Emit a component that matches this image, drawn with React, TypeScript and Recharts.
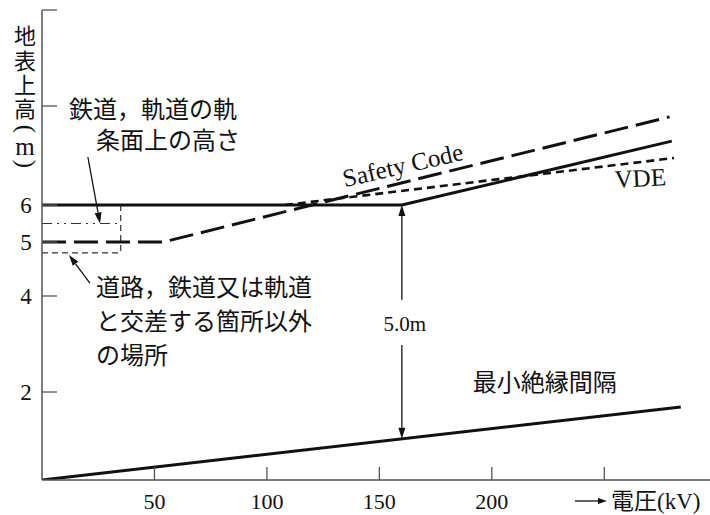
import React from 'react';
import { LineChart, Line, XAxis, YAxis, ReferenceLine, ReferenceDot } from 'recharts';

// voltage (kV) and height above ground (m) of each curve
const LINE_KV = [0, 160, 280];
const LINE_M = [6, 6, 7.29];
const SAFETY_KV = [0, 54, 120, 279];
const SAFETY_M = [5, 5, 6, 7.78];
const VDE_KV = [108, 281];
const VDE_M = [6, 6.95];
const INSUL_KV = [0, 284];
const INSUL_M = [0, 1.66];
const RAIL_KV = [0, 35];
const RAIL_M = [5.5, 5.5];
const ROAD_KV = [0, 35];
const ROAD_M = [4.8, 4.8];
const EDGE_KV = [35, 35];
const EDGE_M = [6, 4.8];

const X_TICKS = [50, 100, 150, 200, 250];
const X_LABELS = ['50', '100', '150', '200', ''];
const Y_TICKS = [2, 4, 5, 6, 8, 10];
const Y_LABELS = ['2', '4', '5', '6', '', ''];
const Y_TITLE = ['地', '表', '上', '高', '(', 'm', ')'];
const Y_TITLE_POS = [36, 61, 85, 109, 129, 146, 164];

// the height axis of the original is not drawn to scale: metres -> axis units
const SCALE_M = [0, 2, 4, 5, 6, 8, 10];
const SCALE_AXIS = [0, 1.872, 3.915, 5.064, 5.851, 7.957, 10];

const toAxis = (m: number) => {
  for (let i = 0; i < SCALE_M.length - 1; i++) {
    if (m <= SCALE_M[i + 1]) {
      const t = (m - SCALE_M[i]) / (SCALE_M[i + 1] - SCALE_M[i]);
      return SCALE_AXIS[i] + t * (SCALE_AXIS[i + 1] - SCALE_AXIS[i]);
    }
  }
  return SCALE_AXIS[SCALE_AXIS.length - 1];
};

const series = (kv: number[], m: number[]) => kv.map((x, i) => ({ kv: x, h: toAxis(m[i]) }));

// annotation texts: [kV, m] anchor
const NOTES = [
  { kv: 12.0, m: 7.92, text: '鉄道，軌道の軌', anchor: 'start' },
  { kv: 24.0, m: 7.31, text: '条面上の高さ', anchor: 'start' },
  { kv: 24.0, m: 4.15, text: '道路，鉄道又は軌道', anchor: 'start' },
  { kv: 24.0, m: 3.46, text: 'と交差する箇所以外', anchor: 'start' },
  { kv: 24.0, m: 2.75, text: 'の場所', anchor: 'start' },
  { kv: 223.5, m: 2.19, text: '最小絶縁間隔', anchor: 'middle' },
];

// arrows: from -> to (head at "to")
const ARROWS = [
  { from: [20.4, 6.97], to: [25.8, 5.5] },
  { from: [21.3, 4.24], to: [12.0, 4.76] },
  { from: [160, 3.92], to: [160, 6] },
  { from: [160, 2.98], to: [160, 0.935] },
];

const INK = '#111';
const JP = '"Noto Sans CJK JP", sans-serif';
const SERIF = '"Liberation Serif", serif';

const Arrow = (p: any) => {
  const { x1, y1, x2, y2 } = p;
  const a = Math.atan2(y2 - y1, x2 - x1);
  const len = 11;
  const w = 3.5;
  const bx = x2 - len * Math.cos(a);
  const by = y2 - len * Math.sin(a);
  const pts = `${x2},${y2} ${bx - w * Math.sin(a)},${by + w * Math.cos(a)} ${bx + w * Math.sin(a)},${by - w * Math.cos(a)}`;
  return (
    <g>
      <line x1={x1} y1={y1} x2={bx} y2={by} stroke={INK} strokeWidth={1.3} />
      <polygon points={pts} fill={INK} />
    </g>
  );
};

const YTick = (p: any) => {
  const { x, y, payload } = p;
  const i = Y_TICKS.findIndex((t) => Math.abs(toAxis(t) - payload.value) < 1e-6);
  return (
    <g>
      <line x1={x} y1={y} x2={x + 15} y2={y} stroke="#555" strokeWidth={1.3} />
      <text x={x - 16} y={y} dy="0.35em" textAnchor="middle" fontFamily={SERIF} fontSize={23} fill={INK}>
        {Y_LABELS[i] ?? ''}
      </text>
    </g>
  );
};

const XTick = (p: any) => {
  const { x, y, payload } = p;
  const i = X_TICKS.indexOf(payload.value);
  return (
    <g>
      <line x1={x} y1={y} x2={x} y2={y - 13} stroke="#555" strokeWidth={1.3} />
      <text x={x} y={y + 21} dy="0.35em" textAnchor="middle" fontFamily={SERIF} fontSize={22} fill={INK}>
        {X_LABELS[i] ?? ''}
      </text>
    </g>
  );
};

const YTitle = (p: any) => {
  const vb = p.viewBox;
  const cx = vb.x + 25;
  return (
    <g fill={INK}>
      {Y_TITLE.map((c, i) => {
        const cy = vb.y - 10 + Y_TITLE_POS[i];
        const paren = c === '(' || c === ')';
        const latin = paren || c === 'm';
        return (
          <text
            key={i}
            x={cx}
            y={cy}
            dy={paren ? '0.3em' : '0.35em'}
            textAnchor="middle"
            fontFamily={latin ? SERIF : JP}
            fontSize={latin ? 25 : 22}
            transform={paren ? `rotate(90 ${cx} ${cy})` : undefined}
          >
            {c}
          </text>
        );
      })}
    </g>
  );
};

const XTitle = (p: any) => {
  const vb = p.viewBox;
  const right = vb.x + vb.width;
  const ty = vb.y + 21;
  return (
    <g>
      <line x1={right - 135} y1={ty} x2={right - 110} y2={ty} stroke={INK} strokeWidth={1.3} />
      <polygon points={`${right - 103},${ty} ${right - 112},${ty - 3} ${right - 112},${ty + 3}`} fill={INK} />
      <text x={right - 99} y={ty} dy="0.35em" fontFamily={JP} fontSize={23} fill={INK}>
        電圧
        <tspan fontFamily={SERIF}>(kV)</tspan>
      </text>
    </g>
  );
};

const textShape = (text: string, anchor: string, opts: any = {}) => (p: any) => (
  <text
    x={p.cx}
    y={p.cy}
    dy="0.35em"
    textAnchor={anchor}
    fontFamily={opts.family ?? JP}
    fontSize={opts.size ?? 24}
    fill={INK}
    transform={opts.rotate ? `rotate(${opts.rotate} ${p.cx} ${p.cy})` : undefined}
  >
    {text}
  </text>
);

export default function App() {
  return (
    <div style={{ position: 'absolute', left: 0, top: 0, width: 710, height: 515, background: '#fff' }}>
      <LineChart width={710} height={515} margin={{ top: 10, right: 0, bottom: 0, left: 0 }}>
        <XAxis
          dataKey="kv"
          type="number"
          domain={[0, 297]}
          ticks={X_TICKS}
          interval={0}
          height={35}
          tickSize={0}
          tickMargin={0}
          tickLine={false}
          axisLine={{ stroke: '#555', strokeWidth: 1.5 }}
          tick={<XTick />}
          allowDataOverflow
          label={{ content: XTitle }}
        />
        <YAxis
          type="number"
          domain={[0, 10]}
          ticks={Y_TICKS.map(toAxis)}
          interval={0}
          width={42}
          tickSize={0}
          tickMargin={0}
          tickLine={false}
          axisLine={{ stroke: '#555', strokeWidth: 1.5 }}
          tick={<YTick />}
          allowDataOverflow
          label={{ content: YTitle }}
        />

        <Line data={series(RAIL_KV, RAIL_M)} dataKey="h" type="linear" stroke="#333" strokeWidth={1.2} strokeDasharray="10 5 2 5 2 5" dot={false} isAnimationActive={false} />
        <Line data={series(ROAD_KV, ROAD_M)} dataKey="h" type="linear" stroke="#333" strokeWidth={1.2} strokeDasharray="6 4" dot={false} isAnimationActive={false} />
        <Line data={series(EDGE_KV, EDGE_M)} dataKey="h" type="linear" stroke="#333" strokeWidth={1.2} strokeDasharray="6 4" dot={false} isAnimationActive={false} />
        <Line data={series(INSUL_KV, INSUL_M)} dataKey="h" type="linear" stroke={INK} strokeWidth={3} dot={false} isAnimationActive={false} />
        <Line data={series(VDE_KV, VDE_M)} dataKey="h" type="linear" stroke={INK} strokeWidth={2.6} strokeDasharray="8 5" dot={false} isAnimationActive={false} />
        <Line data={series(SAFETY_KV, SAFETY_M)} dataKey="h" type="linear" stroke={INK} strokeWidth={3} strokeDasharray="24 8" dot={false} isAnimationActive={false} />
        <Line data={series(LINE_KV, LINE_M)} dataKey="h" type="linear" stroke={INK} strokeWidth={3} dot={false} isAnimationActive={false} />

        {ARROWS.map((a, i) => (
          <ReferenceLine
            key={`a${i}`}
            segment={[
              { x: a.from[0], y: toAxis(a.from[1]) },
              { x: a.to[0], y: toAxis(a.to[1]) },
            ]}
            shape={Arrow}
            ifOverflow="visible"
          />
        ))}

        {NOTES.map((n, i) => (
          <ReferenceDot key={`n${i}`} x={n.kv} y={toAxis(n.m)} r={0} ifOverflow="visible" shape={textShape(n.text, n.anchor)} />
        ))}
        <ReferenceDot x={160.4} y={toAxis(6.81)} r={0} ifOverflow="visible" shape={textShape('Safety Code', 'middle', { family: SERIF, size: 25, rotate: -13 })} />
        <ReferenceDot x={266} y={toAxis(6.55)} r={0} ifOverflow="visible" shape={textShape('VDE', 'middle', { family: SERIF, size: 25, rotate: -3 })} />
        <ReferenceDot x={161.3} y={toAxis(3.42)} r={0} ifOverflow="visible" shape={textShape('5.0m', 'middle', { family: SERIF, size: 21 })} />
      </LineChart>
    </div>
  );
}
